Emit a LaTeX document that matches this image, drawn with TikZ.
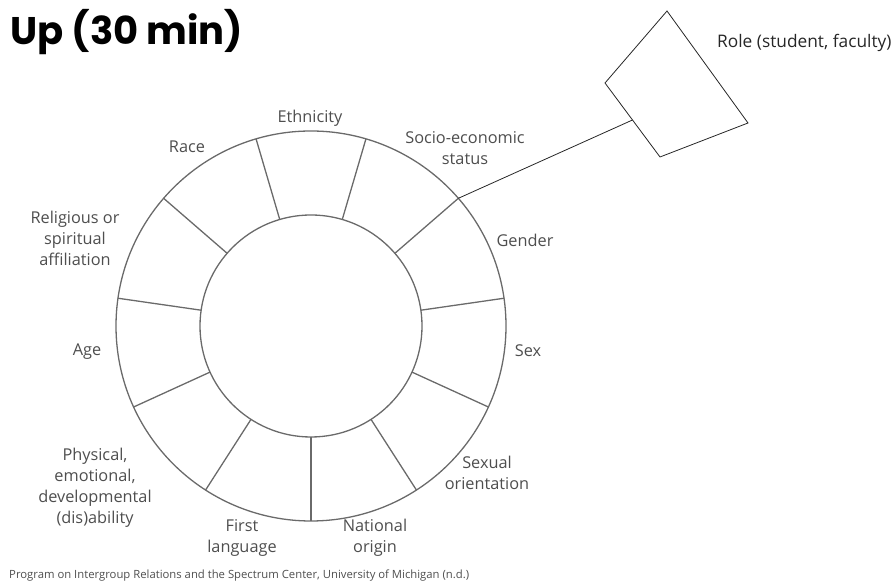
\documentclass[tikz,border=0pt]{standalone}
\usepackage{fontspec}
\setmainfont{Open Sans}
\newfontfamily\titlefont{Poppins}
\usepackage{xcolor}
\usepackage{tikz}
\usetikzlibrary{calc, positioning}

\definecolor{ringgray}{HTML}{6A6A6A}
\definecolor{labelgray}{HTML}{4E4E4E}

\begin{document}
\begin{tikzpicture}[
    x=1pt, y=1pt,
    ring/.style={draw=ringgray, line width=1.3pt},
    lbl/.style={font=\fontsize{16.3}{21}\selectfont, text=labelgray, align=center, inner sep=0pt},
    tie/.style={draw=black!85, line width=0.8pt}
]
\useasboundingbox (0,0) rectangle (896,585);

% wheel
\coordinate (c) at (311,259);
\draw[ring] (c) circle[radius=195];
\draw[ring] (c) circle[radius=111];
\foreach \k in {0,...,10}
  \draw[ring] ([shift={(-90+\k*360/11:111)}]c) -- ([shift={(-90+\k*360/11:195)}]c);

% identity labels
\node[lbl] (eth)  at (310,467) {Ethnicity};
\node[lbl] (race) at (187,438) {Race};
\node[lbl] (ses)  at (465,437) {Socio-economic\\status};
\node[lbl] (gen)  at (525,345) {Gender};
\node[lbl] (sex)  at (528,234) {Sex};
\node[lbl] (sor)  at (487,112) {Sexual\\orientation};
\node[lbl] (nat)  at (375,47)  {National\\origin};
\node[lbl] (lang) at (242,47)  {First\\language};
\node[lbl] (abl)  at (95,97)   {Physical,\\emotional,\\developmental\\(dis)ability};
\node[lbl] (age)  at (87,233)  {Age};
\node[lbl] (rel)  at (75,347)  {Religious or\\spiritual\\affiliation};

% role box
\coordinate (qt) at (667,574);
\coordinate (ql) at (605,502);
\coordinate (qb) at (660,428);
\coordinate (qr) at (748,462);
\draw[tie] (qt) -- (ql) -- (qb) -- (qr) -- cycle;
\coordinate (rim) at ([shift={(-90+4*360/11:195)}]c);
\draw[tie] (rim) -- ($(ql)!0.5!(qb)$);
\node[font=\fontsize{17.3}{20}\selectfont, text=black!85, anchor=west, inner sep=0pt] (role) at (717,542) {Role (student, faculty)};

% title and source
\node[font=\titlefont\bfseries\fontsize{38.5}{44}\selectfont, anchor=base west, inner sep=0pt] (title) at (10,540) {Up (30 min)};
\node[font=\fontsize{11.3}{13}\selectfont, text=labelgray, anchor=west, inner sep=0pt] (src) at (9,9)
  {Program on Intergroup Relations and the Spectrum Center, University of Michigan (n.d.)};
\end{tikzpicture}
\end{document}
